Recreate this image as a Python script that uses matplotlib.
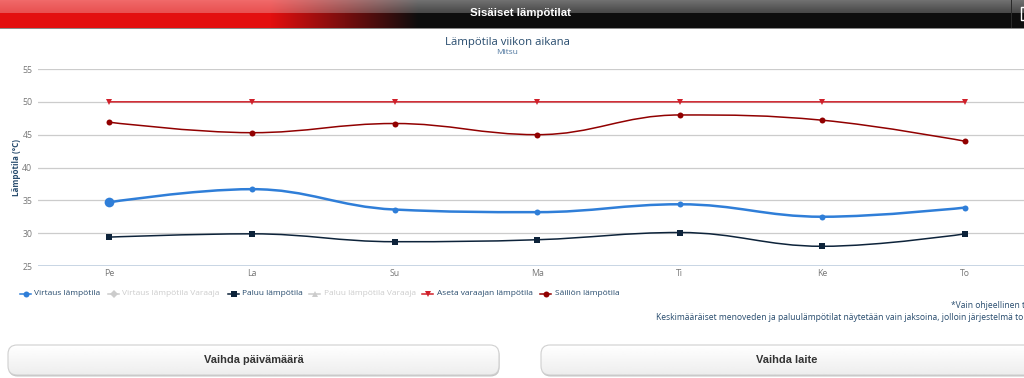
import numpy as np
import matplotlib
matplotlib.use("Agg")
import matplotlib.pyplot as plt
from matplotlib.path import Path
from matplotlib.patches import PathPatch, FancyBboxPatch, Rectangle

plt.rcParams['font.family'] = ['Open Sans', 'DejaVu Sans']

days = ["Pe", "La", "Su", "Ma", "Ti", "Ke", "To"]
y_ticks = [25, 30, 35, 40, 45, 50, 55]
virtaus = [34.7, 36.7, 33.6, 33.2, 34.4, 32.5, 33.9]
paluu = [29.4, 29.9, 28.7, 29.0, 30.1, 28.0, 29.9]
aseta = [50, 50, 50, 50, 50, 50, 50]
sailio = [46.9, 45.3, 46.7, 45.0, 48.0, 47.2, 44.0]

legend_labels = ["Virtaus lämpötila", "Virtaus lämpötila Varaaja", "Paluu lämpötila",
                 "Paluu lämpötila Varaaja", "Aseta varaajan lämpötila", "Säiliön lämpötila"]

W, H = 1024, 378


def spline_path(xs, ys, smoothing=1.5):
    # same idea as the highcharts spline, bezier controls for each point
    left = []
    right = []
    n = len(xs)
    for i in range(n):
        if i == 0 or i == n - 1:
            left.append((xs[i], ys[i]))
            right.append((xs[i], ys[i]))
            continue
        lx = (smoothing * xs[i] + xs[i - 1]) / (smoothing + 1)
        ly = (smoothing * ys[i] + ys[i - 1]) / (smoothing + 1)
        rx = (smoothing * xs[i] + xs[i + 1]) / (smoothing + 1)
        ry = (smoothing * ys[i] + ys[i + 1]) / (smoothing + 1)
        corr = (ry - ly) * (rx - xs[i]) / (rx - lx) + ys[i] - ry
        ly += corr
        ry += corr
        # no overshoot past the neighbours
        if ly > max(ys[i - 1], ys[i]):
            ly = max(ys[i - 1], ys[i])
            ry = 2 * ys[i] - ly
        elif ly < min(ys[i - 1], ys[i]):
            ly = min(ys[i - 1], ys[i])
            ry = 2 * ys[i] - ly
        if ry > max(ys[i + 1], ys[i]):
            ry = max(ys[i + 1], ys[i])
            ly = 2 * ys[i] - ry
        elif ry < min(ys[i + 1], ys[i]):
            ry = min(ys[i + 1], ys[i])
            ly = 2 * ys[i] - ry
        left.append((lx, ly))
        right.append((rx, ry))
    verts = [(xs[0], ys[0])]
    codes = [Path.MOVETO]
    for i in range(1, n):
        verts += [right[i - 1], left[i], (xs[i], ys[i])]
        codes += [Path.CURVE4] * 3
    return Path(verts, codes)


fig = plt.figure(figsize=(W / 100, H / 100), dpi=100, facecolor="white")

# page layer in pixel coords
page = fig.add_axes([0, 0, 1, 1])
page.set_xlim(0, W)
page.set_ylim(H, 0)
page.axis("off")

# header bar, glossy top half
low_l = np.array([227, 15, 15]) / 255
low_r = np.array([13, 13, 13]) / 255
top_l = np.array([240, 105, 105]) / 255
top_r = np.array([112, 112, 112]) / 255
top2_l = np.array([232, 80, 80]) / 255
top2_r = np.array([72, 72, 72]) / 255
fade = np.clip((np.arange(W) - 270) / 148, 0, 1)[:, None]
hdr = np.zeros((28, W, 3))
for r in range(28):
    if r < 13:
        k = r / 12
        c_l = top_l * (1 - k) + top2_l * k
        c_r = top_r * (1 - k) + top2_r * k
        hdr[r] = c_l * (1 - fade) + c_r * fade
    else:
        hdr[r] = low_l * (1 - fade) + low_r * fade
page.imshow(hdr, extent=(0, W, 28, 0), aspect="auto", interpolation="nearest", zorder=1)
page.set_xlim(0, W)
page.set_ylim(H, 0)
page.add_patch(Rectangle((0, 28), W, 1, fc="#8a8a8a", ec="none", zorder=2))
page.add_patch(Rectangle((1011, 0), 1, 28, fc="#2a2a2a", ec="none", zorder=2))
page.plot([1024, 1021, 1021, 1024], [7, 7, 20, 20], color="white", lw=1, zorder=3)
page.text(520.5, 13, "Sisäiset lämpötilat", color="white", fontsize=8.2, fontweight="bold",
          family=["Liberation Sans"], ha="center", va="center", zorder=3)

page.text(507, 42, "Lämpötila viikon aikana", color="#274b6d", fontsize=8.2, ha="center", va="center")
page.text(507, 53, "Mitsu", color="#4d759e", fontsize=6, ha="center", va="center")

# plot area
x_left, x_right = 38, W
y_top, y_bot = 69, 266
ax = fig.add_axes([x_left / W, 1 - y_bot / H, (x_right - x_left) / W, (y_bot - y_top) / H])
ax.patch.set_alpha(0)
ax.set_xlim(-0.5, (1024 - 109) / 142.67)
ax.set_ylim(25, 55)
for s in ax.spines.values():
    s.set_visible(False)
ax.set_yticks(y_ticks)
ax.set_xticks(range(len(days)))
ax.set_xticklabels(days)
ax.tick_params(axis="both", length=0, labelsize=6.3, labelcolor="#777777")
ax.tick_params(axis="x", pad=2)
ax.tick_params(axis="y", pad=4)
ax.grid(axis="y", color="#cccccc", lw=0.9)
ax.set_axisbelow(True)
ax.axhline(25, color="#c0d0e0", lw=1.2, zorder=1)
ax.set_ylabel("Lämpötila (°C)", color="#274b6d", fontsize=5.8, fontweight="bold", labelpad=1)

xs = np.arange(len(days), dtype=float)
series = [
    (aseta, "#d0202a", 1.1, "v", 4.2),
    (sailio, "#910000", 1.1, "o", 4.3),
    (virtaus, "#2f7ed8", 1.8, "o", 4.3),
    (paluu, "#0d233a", 1.1, "s", 4.0),
]
for vals, col, lw, mk, ms in series:
    ax.add_patch(PathPatch(spline_path(xs, vals), fc="none", ec=col, lw=lw, zorder=3, capstyle="round"))
    ax.plot(xs, vals, ls="none", marker=mk, ms=ms, color=col, mew=0, zorder=4, clip_on=False)
# hovered first point of blue
ax.plot(xs[0], virtaus[0], ls="none", marker="o", ms=7, color="#2f7ed8", mew=0, zorder=5)

# legend
legend_handle = [20, 108, 228, 309, 422, 540]
legend_x = [34, 122, 242, 324, 437, 555]
legend_styles = [
    ("#2f7ed8", "o", "#274b6d"),
    ("#cccccc", "D", "#cccccc"),
    ("#0d233a", "s", "#274b6d"),
    ("#cccccc", "^", "#cccccc"),
    ("#d0202a", "v", "#274b6d"),
    ("#910000", "o", "#274b6d"),
]
for lab, lx, hx0, st in zip(legend_labels, legend_x, legend_handle, legend_styles):
    page.plot([hx0, hx0 + 11], [293.5, 293.5], color=st[0], lw=1.1, zorder=3)
    page.plot([hx0 + 5.5], [293.5], marker=st[1], ms=4.3, color=st[0], mew=0, zorder=4)
    page.text(lx, 293.5, lab, color=st[2], fontsize=6.05, ha="left", va="center")

# footnotes, cut off by the page edge in the screenshot
page.text(951, 306, "*Vain ohjeellinen t", color="#274b6d", fontsize=6.13, ha="left", va="center")
page.text(656, 317, "Keskimääräiset menoveden ja paluulämpötilat näytetään vain jaksoina, jolloin järjestelmä toi",
          color="#274b6d", fontsize=6.13, ha="left", va="center")

# buttons
grad = np.linspace(1, 0.93, 40)[:, None]
for bx, bw, label, cx in [(8, 491, "Vaihda päivämäärä", 254), (541, 520, "Vaihda laite", 787)]:
    page.add_patch(FancyBboxPatch((bx + 0.5, 346.5), bw, 30, boxstyle="round,pad=0,rounding_size=9",
                                  fc="#c4c4c4", ec="none", zorder=2, clip_on=True))
    box = FancyBboxPatch((bx, 345), bw, 30, boxstyle="round,pad=0,rounding_size=9",
                         fc="none", ec="#d0d0d0", lw=0.8, zorder=4, clip_on=True)
    page.add_patch(box)
    im = page.imshow(grad, extent=(bx, bx + bw, 375, 345), cmap="gray", vmin=0, vmax=1,
                     aspect="auto", zorder=3)
    im.set_clip_path(box)
    page.set_xlim(0, W)
    page.set_ylim(H, 0)
    page.text(cx, 360, label, color="#333333", fontsize=7.9, fontweight="bold", family=["Liberation Sans"],
              ha="center", va="center", zorder=5)

fig.savefig("out.png", dpi=100)
plt.close(fig)
